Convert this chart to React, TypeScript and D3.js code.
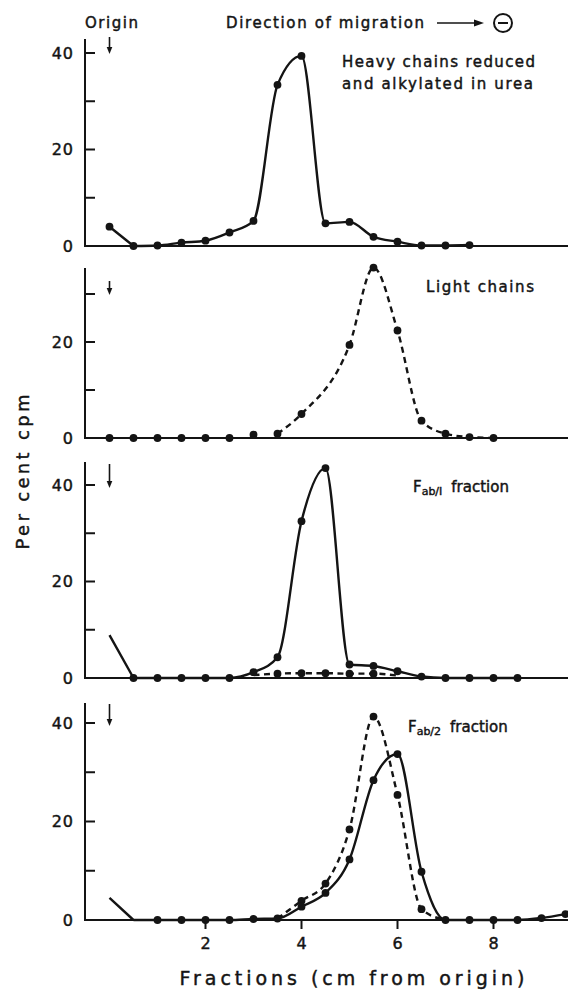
import React from "react";
import * as d3 from "d3";

// Fractions along the strip (cm from origin) and per cent cpm readings
const xTicks = [2, 4, 6, 8];
const yMajorTicks = [0, 20, 40];
const yMinorTicks = [10, 30];

// Heavy chains reduced and alkylated in urea
const heavyX = [0, 0.5, 1, 1.5, 2, 2.5, 3, 3.5, 4, 4.5, 5, 5.5, 6, 6.5, 7, 7.5];
const heavyY = [4.0, 0, 0.1, 0.7, 1.1, 2.8, 5.2, 33.4, 39.4, 4.7, 5.0, 1.9, 0.9, 0.1, 0.1, 0.2];

// Light chains (points near origin have no curve through them)
const lightDotX = [0, 0.5, 1, 1.5, 2, 2.5, 3];
const lightDotY = [0, 0, 0, 0, 0, 0, 0.7];
const lightX = [3.5, 4, 5, 5.5, 6, 6.5, 7, 7.5, 8];
const lightY = [0.9, 5.0, 19.4, 35.5, 22.4, 3.6, 0.9, 0.2, 0];

// Fab/I fraction
const fab1X = [0, 0.5, 1, 1.5, 2, 2.5, 3, 3.5, 4, 4.5, 5, 5.5, 6, 6.5, 7, 7.5, 8, 8.5];
const fab1Y = [8.9, 0, 0, 0, 0, 0, 1.2, 4.3, 32.5, 43.5, 2.8, 2.5, 1.4, 0.3, 0, 0, 0, 0];
const fab1DashX = [3, 3.5, 4, 4.5, 5, 5.5, 6];
const fab1DashY = [0.6, 0.9, 1.0, 1.0, 0.9, 0.9, 0.5];

// Fab/2 fraction
const fab2X = [0, 0.5, 1, 1.5, 2, 2.5, 3, 3.5, 4, 4.5, 5, 5.5, 6, 6.5, 7, 7.5, 8, 8.5, 9, 9.5];
const fab2Y = [4.5, 0, 0, 0, 0, 0, 0.2, 0.3, 2.7, 5.5, 12.3, 28.4, 33.7, 9.8, 0, 0, 0, 0, 0.4, 1.2];
const fab2DashX = [3.5, 4, 4.5, 5, 5.5, 6, 6.5, 7];
const fab2DashY = [0.3, 3.9, 7.4, 18.4, 41.3, 25.4, 2.2, 0];

type Series = {
  xs: number[];
  ys: number[];
  dashed?: boolean;
  noLine?: boolean;
  straightHead?: boolean; // first segment drawn as a straight stroke
  markFrom?: number;
  markTo?: number;
};

const zip = (xs: number[], ys: number[]) => xs.map((x, i) => [x, ys[i]] as [number, number]);

const W = 568;
const H = 992;
const AXIS_X = 85;
const FONT = "'DejaVu Sans', sans-serif";
const INK = "#141414";

const x = d3.scaleLinear().domain([0, 8]).range([109.5, 493.5]);

const panels: {
  zero: number;
  y40: number;
  top: number;
  arrow: [number, number];
  series: Series[];
}[] = [
  {
    zero: 246, y40: 53, top: 39, arrow: [37, 54],
    series: [{ xs: heavyX, ys: heavyY, straightHead: true }],
  },
  {
    zero: 438, y40: 246, top: 268, arrow: [281, 295],
    series: [
      { xs: lightDotX, ys: lightDotY, noLine: true },
      { xs: lightX, ys: lightY, dashed: true },
    ],
  },
  {
    zero: 678, y40: 485, top: 462, arrow: [464, 488],
    series: [
      { xs: fab1DashX, ys: fab1DashY, dashed: true, markFrom: 1, markTo: 5 },
      { xs: fab1X, ys: fab1Y, markFrom: 1, straightHead: true },
    ],
  },
  {
    zero: 920, y40: 723, top: 703, arrow: [704, 726],
    series: [
      { xs: fab2DashX, ys: fab2DashY, dashed: true, markFrom: 1, markTo: 6 },
      { xs: fab2X, ys: fab2Y, markFrom: 2, straightHead: true },
    ],
  },
];

const textStyle = {
  fontFamily: FONT,
  fill: INK,
  stroke: INK,
  strokeWidth: 0.45,
} as const;

function Panel({ p, bottom }: { p: (typeof panels)[number]; bottom: boolean }) {
  const y = d3.scaleLinear().domain([0, 40]).range([p.zero, p.y40]);
  const smooth = d3
    .line<[number, number]>()
    .x((d) => x(d[0]))
    .y((d) => y(d[1]))
    .curve(d3.curveMonotoneX);
  const straight = d3
    .line<[number, number]>()
    .x((d) => x(d[0]))
    .y((d) => y(d[1]));

  const pathFor = (s: Series) => {
    const pts = zip(s.xs, s.ys);
    if (!s.straightHead) return smooth(pts) ?? "";
    return (straight(pts.slice(0, 2)) ?? "") + (smooth(pts.slice(1)) ?? "");
  };

  return (
    <g>
      {/* y axis with inward ticks */}
      <line x1={AXIS_X} x2={AXIS_X} y1={p.top} y2={p.zero + 1} stroke={INK} strokeWidth={2} />
      {[...yMajorTicks, ...yMinorTicks]
        .filter((t) => y(t) >= p.top + 4)
        .map((t) => (
          <line key={"t" + t} x1={AXIS_X} x2={AXIS_X + 10} y1={y(t)} y2={y(t)} stroke={INK} strokeWidth={2} />
        ))}
      {yMajorTicks
        .filter((t) => y(t) >= p.top + 4)
        .map((t) => (
          <text
            key={"l" + t}
            x={74}
            y={y(t) + 5.5}
            textAnchor="end"
            fontSize={16}
            letterSpacing={1}
            {...textStyle}
          >
            {t}
          </text>
        ))}
      {/* baseline */}
      <line x1={AXIS_X - 1} x2={W} y1={p.zero} y2={p.zero} stroke={INK} strokeWidth={2} />
      {bottom &&
        xTicks.map((t) => (
          <g key={"x" + t}>
            <line x1={x(t)} x2={x(t)} y1={p.zero} y2={p.zero + 9} stroke={INK} strokeWidth={2} />
            <text x={x(t)} y={949} textAnchor="middle" fontSize={16} {...textStyle}>
              {t}
            </text>
          </g>
        ))}
      {/* origin arrow */}
      <line x1={x(0)} x2={x(0)} y1={p.arrow[0]} y2={p.arrow[1] - 5} stroke={INK} strokeWidth={1.6} />
      <path
        d={`M${x(0) - 2.8},${p.arrow[1] - 7} L${x(0) + 2.8},${p.arrow[1] - 7} L${x(0)},${p.arrow[1]} Z`}
        fill={INK}
      />
      {/* data */}
      {p.series.map((s, i) => {
        const pts = zip(s.xs, s.ys);
        const from = s.markFrom ?? 0;
        const to = s.markTo ?? pts.length - 1;
        return (
          <g key={i}>
            {!s.noLine && (
              <path
                d={pathFor(s)}
                fill="none"
                stroke={INK}
                strokeWidth={2.4}
                strokeDasharray={s.dashed ? "6 4.5" : undefined}
                strokeLinejoin="round"
              />
            )}
            {pts.map((d, j) =>
              j >= from && j <= to ? (
                <circle key={j} cx={x(d[0])} cy={y(d[1])} r={3.9} fill={INK} />
              ) : null
            )}
          </g>
        );
      })}
    </g>
  );
}

export default function App() {
  return (
    <svg
      width={W}
      height={H}
      viewBox={`0 0 ${W} ${H}`}
      style={{ position: "absolute", left: 0, top: 0, background: "#fff" }}
    >
      <rect width={W} height={H} fill="#fff" />
      {panels.map((p, i) => (
        <Panel key={i} p={p} bottom={i === panels.length - 1} />
      ))}

      {/* header */}
      <text x={85} y={28} fontSize={15} textLength={53} {...textStyle}>Origin</text>
      <text x={226} y={28} fontSize={15} textLength={198} {...textStyle}>Direction of migration</text>
      <line x1={437} x2={476} y1={23} y2={23} stroke={INK} strokeWidth={1.6} />
      <path d="M474,19.5 L484,23 L474,26.5 Z" fill={INK} />
      <circle cx={503} cy={23} r={9} fill="none" stroke={INK} strokeWidth={2} />
      <line x1={498} x2={508} y1={23} y2={23} stroke={INK} strokeWidth={2} />

      {/* panel captions */}
      <text x={342} y={67} fontSize={15} textLength={193} {...textStyle}>Heavy chains reduced</text>
      <text x={342} y={89} fontSize={15} textLength={191} {...textStyle}>and alkylated in urea</text>
      <text x={426} y={292} fontSize={15} textLength={108} {...textStyle}>Light chains</text>
      <text x={413} y={492} fontSize={15} {...textStyle}>
        F<tspan fontSize={11} dy={3}>ab/I</tspan>
        <tspan dy={-3} dx={9}>fraction</tspan>
      </text>
      <text x={408} y={732} fontSize={15} {...textStyle}>
        F<tspan fontSize={11} dy={3}>ab/2</tspan>
        <tspan dy={-3} dx={9}>fraction</tspan>
      </text>

      {/* axis titles */}
      <text
        transform="translate(29,472) rotate(-90)"
        textAnchor="middle"
        fontSize={18}
        textLength={155}
        {...textStyle}
      >
        Per cent cpm
      </text>
      <text x={352} y={985} textAnchor="middle" fontSize={19} textLength={345} {...textStyle}>
        Fractions (cm from origin)
      </text>
    </svg>
  );
}
